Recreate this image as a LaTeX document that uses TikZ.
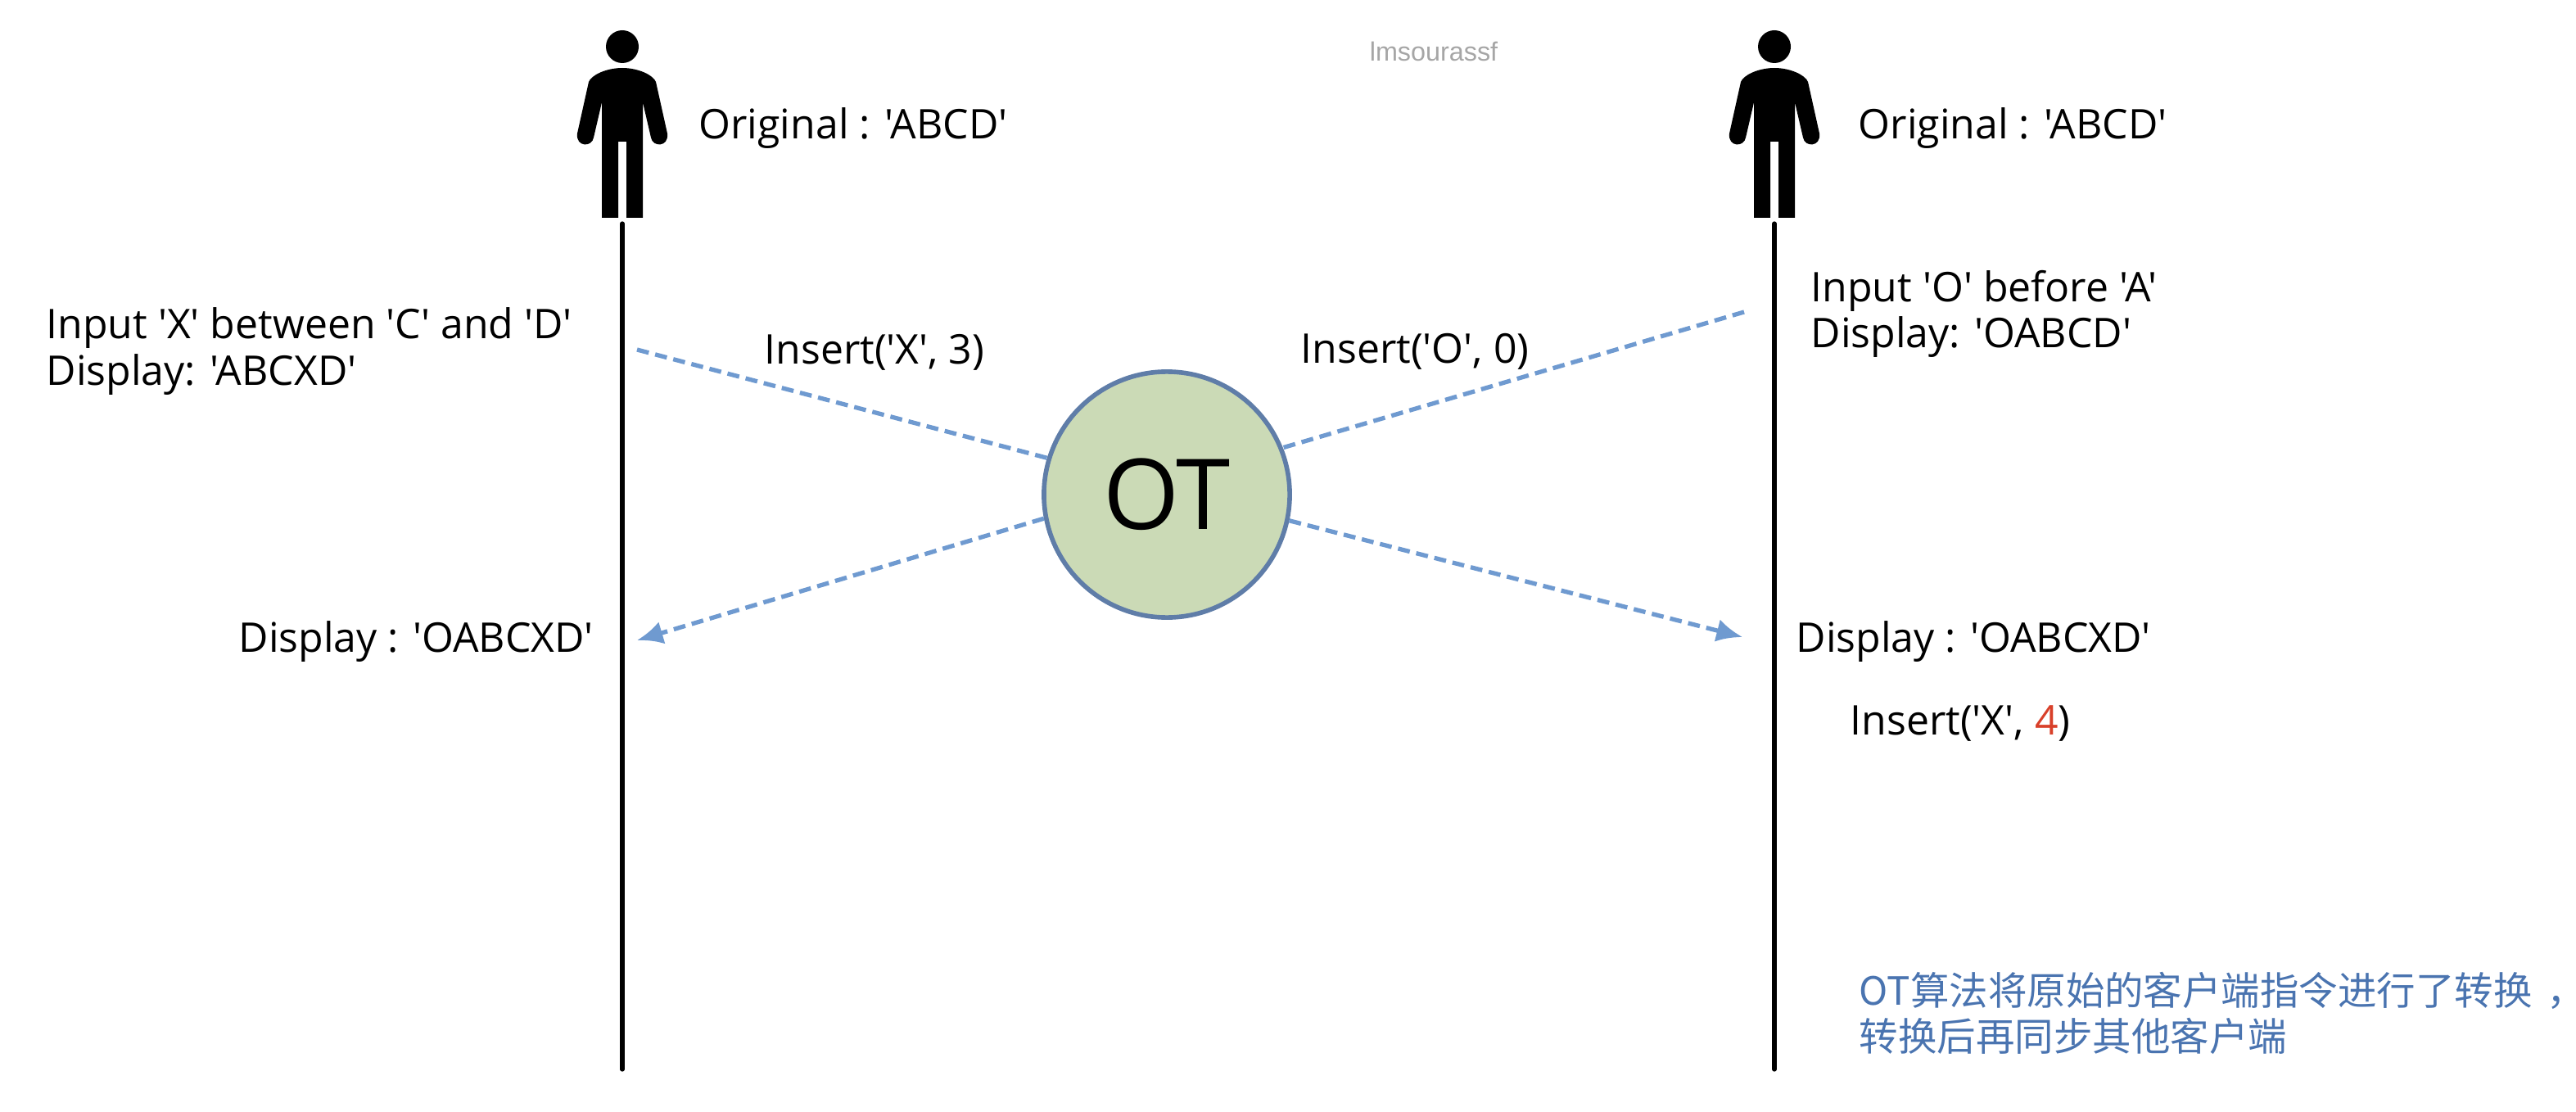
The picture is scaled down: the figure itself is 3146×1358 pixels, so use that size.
\documentclass[tikz,border=0pt]{standalone}
\usepackage{fontspec}
\usetikzlibrary{arrows.meta}
\newfontfamily\labelfont{Open Sans}
\newfontfamily\cjk{Noto Sans CJK SC}
\newfontfamily\cjkhalf[RawFeature=+halt]{Noto Sans CJK SC}
\newfontfamily\markfont{Liberation Sans}
\definecolor{otfill}{HTML}{CBDAB6}
\definecolor{otline}{HTML}{5F7DA8}
\definecolor{dashblue}{HTML}{6F9AD0}
\definecolor{noteblue}{HTML}{4A74B0}
\definecolor{redfour}{HTML}{D8402A}
\tikzset{
	lbl/.style={anchor=base west,inner sep=0pt,font=\labelfont\fontsize{14.2}{17}\selectfont},
	note/.style={anchor=base west,inner sep=0pt,text=noteblue,font=\cjk\fontsize{13.5}{16}\selectfont},
	life/.style={line width=1.5pt,line cap=round},
	msg/.style={draw=dashblue,line width=1.5pt,dash pattern=on 4.2pt off 2.3pt},
	msgarr/.style={msg,-{Latex[length=9pt,width=8pt]}},
}
\begin{document}
\begin{tikzpicture}[x=0.01cm,y=-0.01cm]
	\useasboundingbox (0,0) rectangle (3146,1358);
	% the two clients
	\foreach \x/\n in {760/L,2167/R}{
		\begin{scope}[shift={(\x,0)}]
			\fill (0,57) circle [radius=20];
			\fill (-5,173) -- (-5,266) -- (-25,266) -- (-25,125) -- (-35,168)
				.. controls (-37,180) and (-57,180) .. (-55,163)
				-- (-41,100) .. controls (-38,92) and (-20,83) .. (0,83)
				.. controls (20,83) and (38,92) .. (41,100)
				-- (55,163) .. controls (57,180) and (37,180) .. (35,168)
				-- (25,125) -- (25,266) -- (5,266) -- (5,173) -- cycle;
			\coordinate (top\n) at (0,273);
			\coordinate (bot\n) at (0,1306);
		\end{scope}
		\draw[life] (top\n) -- (bot\n);
	}
	\node[circle,draw=otline,fill=otfill,line width=1.6pt,minimum size=3cm,inner sep=0pt,font=\labelfont\fontsize{34}{40}\selectfont] (ot) at (1425,604) {OT};
	% free ends
	\coordinate (inL) at (778,427);
	\coordinate (inR) at (2130,381);
	\coordinate (outL) at (778,782);
	\coordinate (outR) at (2128,778);
	\draw[msg] (inL) -- (ot.163);
	\draw[msg] (inR) -- (ot.22);
	\draw[msgarr] (ot.191) -- (outL);
	\draw[msgarr] (ot.348) -- (outR);
	% labels
	\node[lbl] (origL) at (853,170) {Original : 'ABCD'};
	\node[lbl] (origR) at (2269,170) {Original : 'ABCD'};
	\node[lbl] (inputL) at (56,413) {Input 'X' between 'C' and 'D'};
	\node[lbl] (dispL) at (56,470) {Display: 'ABCXD'};
	\node[lbl] (insX) at (933,444) {Insert('X', 3)};
	\node[lbl] (insO) at (1588,443) {Insert('O', 0)};
	\node[lbl] (inputR) at (2211,369) {Input 'O' before 'A'};
	\node[lbl] (dispR) at (2211,425) {Display: 'OABCD'};
	\node[lbl] (mergeL) at (291,796) {Display : 'OABCXD'};
	\node[lbl] (mergeR) at (2193,796) {Display : 'OABCXD'};
	\node[lbl] (insX4) at (2259,897) {Insert('X', \textcolor{redfour}{4})};
	\node[anchor=base,inner sep=0pt,text=black!35,font=\markfont\fontsize{9.2}{11}\selectfont] (mark) at (1751,75) {lmsourassf};
	\node[note] (note1) at (2270,1227) {OT算法将原始的客户端指令进行了转换\hspace{5pt}{\cjkhalf ，}};
	\node[note] (note2) at (2270,1283) {转换后再同步其他客户端};
\end{tikzpicture}
\end{document}
